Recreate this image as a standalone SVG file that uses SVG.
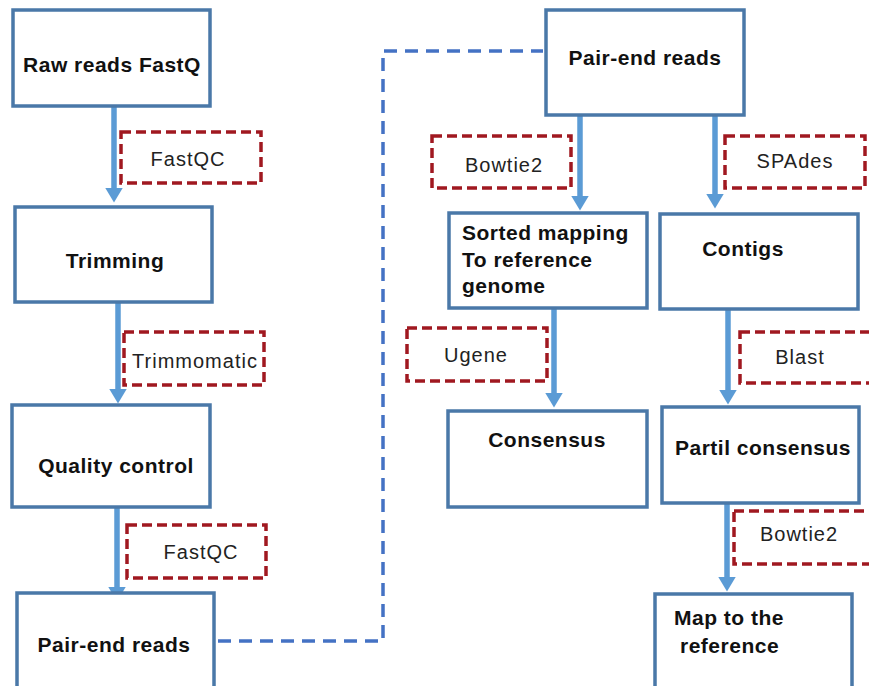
<svg xmlns="http://www.w3.org/2000/svg" width="869" height="686" viewBox="0 0 869 686">
<defs>
<marker id="ah" viewBox="0 0 15 18" refX="0.5" refY="9" markerWidth="15" markerHeight="18" markerUnits="userSpaceOnUse" orient="auto">
<path d="M0,0 L15,9 L0,18 z" fill="#5b9bd5"/>
</marker>
<style>
.box{fill:#fff;stroke:#4a78a8;stroke-width:3.5}
.tool{fill:#fff;stroke:#a01820;stroke-width:3.5;stroke-dasharray:10 5}
.t{font-family:"Liberation Sans",Arial,sans-serif;font-weight:bold;font-size:21px;letter-spacing:0.5px;fill:#111}
.l{font-family:"Liberation Sans",Arial,sans-serif;font-size:20px;letter-spacing:1px;fill:#222}
.arr{stroke:#5b9bd5;stroke-width:5.5;fill:none;marker-end:url(#ah)}
.dash{stroke:#4472c4;stroke-width:3.5;fill:none;stroke-dasharray:13 8}
</style>
</defs>
<rect width="869" height="686" fill="#fff"/>
<g id="connectors">
<line class="arr" x1="114" y1="107" x2="114" y2="188"/>
<line class="arr" x1="118" y1="303" x2="118" y2="389"/>
<line class="arr" x1="117" y1="508" x2="117" y2="587"/>
<line class="arr" x1="580" y1="116" x2="580" y2="196"/>
<line class="arr" x1="715" y1="116" x2="715" y2="194"/>
<line class="arr" x1="554" y1="309" x2="554" y2="393"/>
<line class="arr" x1="728" y1="310" x2="728" y2="390"/>
<line class="arr" x1="727" y1="504" x2="727" y2="577"/>
<path class="dash" d="M218,641 H383 V51 H543"/>
</g>
<g id="raw-reads">
<rect class="box" x="13" y="10" width="197" height="96"/>
<text class="t" x="112" y="72" text-anchor="middle">Raw reads FastQ</text>
</g>
<g id="fastqc-1">
<rect class="tool" x="121" y="132" width="140" height="51"/>
<text class="l" x="188" y="166" text-anchor="middle">FastQC</text>
</g>
<g id="trimming">
<rect class="box" x="15" y="207" width="197" height="95"/>
<text class="t" x="115" y="268" text-anchor="middle">Trimming</text>
</g>
<g id="trimmomatic">
<rect class="tool" x="124" y="332" width="140" height="53"/>
<text class="l" x="195" y="368" text-anchor="middle">Trimmomatic</text>
</g>
<g id="quality-control">
<rect class="box" x="12" y="405" width="198" height="102"/>
<text class="t" x="116" y="473" text-anchor="middle">Quality control</text>
</g>
<g id="fastqc-2">
<rect class="tool" x="127" y="525" width="139" height="53"/>
<text class="l" x="201" y="559" text-anchor="middle">FastQC</text>
</g>
<g id="pair-end-left">
<rect class="box" x="17" y="593" width="197" height="110"/>
<text class="t" x="114" y="652" text-anchor="middle">Pair-end reads</text>
</g>
<g id="pair-end-right">
<rect class="box" x="546" y="10" width="198" height="105"/>
<text class="t" x="645" y="65" text-anchor="middle">Pair-end reads</text>
</g>
<g id="bowtie2-1">
<rect class="tool" x="432" y="136" width="139" height="52"/>
<text class="l" x="504" y="172" text-anchor="middle">Bowtie2</text>
</g>
<g id="spades">
<rect class="tool" x="725" y="136" width="140" height="52"/>
<text class="l" x="795" y="168" text-anchor="middle">SPAdes</text>
</g>
<g id="sorted-mapping">
<rect class="box" x="449" y="213" width="198" height="95"/>
<text class="t" x="462" y="240">Sorted mapping</text>
<text class="t" x="462" y="267">To reference</text>
<text class="t" x="462" y="293">genome</text>
</g>
<g id="contigs">
<rect class="box" x="660" y="214" width="198" height="95"/>
<text class="t" x="743" y="256" text-anchor="middle">Contigs</text>
</g>
<g id="ugene">
<rect class="tool" x="407" y="328" width="140" height="53"/>
<text class="l" x="476" y="362" text-anchor="middle">Ugene</text>
</g>
<g id="blast">
<rect class="tool" x="740" y="332" width="140" height="51"/>
<text class="l" x="800" y="364" text-anchor="middle">Blast</text>
</g>
<g id="consensus">
<rect class="box" x="448" y="411" width="199" height="96"/>
<text class="t" x="547" y="447" text-anchor="middle">Consensus</text>
</g>
<g id="partil-consensus">
<rect class="box" x="662" y="407" width="197" height="96"/>
<text class="t" x="763" y="455" text-anchor="middle">Partil consensus</text>
</g>
<g id="bowtie2-2">
<rect class="tool" x="734" y="511" width="140" height="53"/>
<text class="l" x="799" y="541" text-anchor="middle">Bowtie2</text>
</g>
<g id="map-to-reference">
<rect class="box" x="655" y="594" width="197" height="110"/>
<text class="t" x="674" y="625">Map to the</text>
<text class="t" x="680" y="653">reference</text>
</g>
</svg>
